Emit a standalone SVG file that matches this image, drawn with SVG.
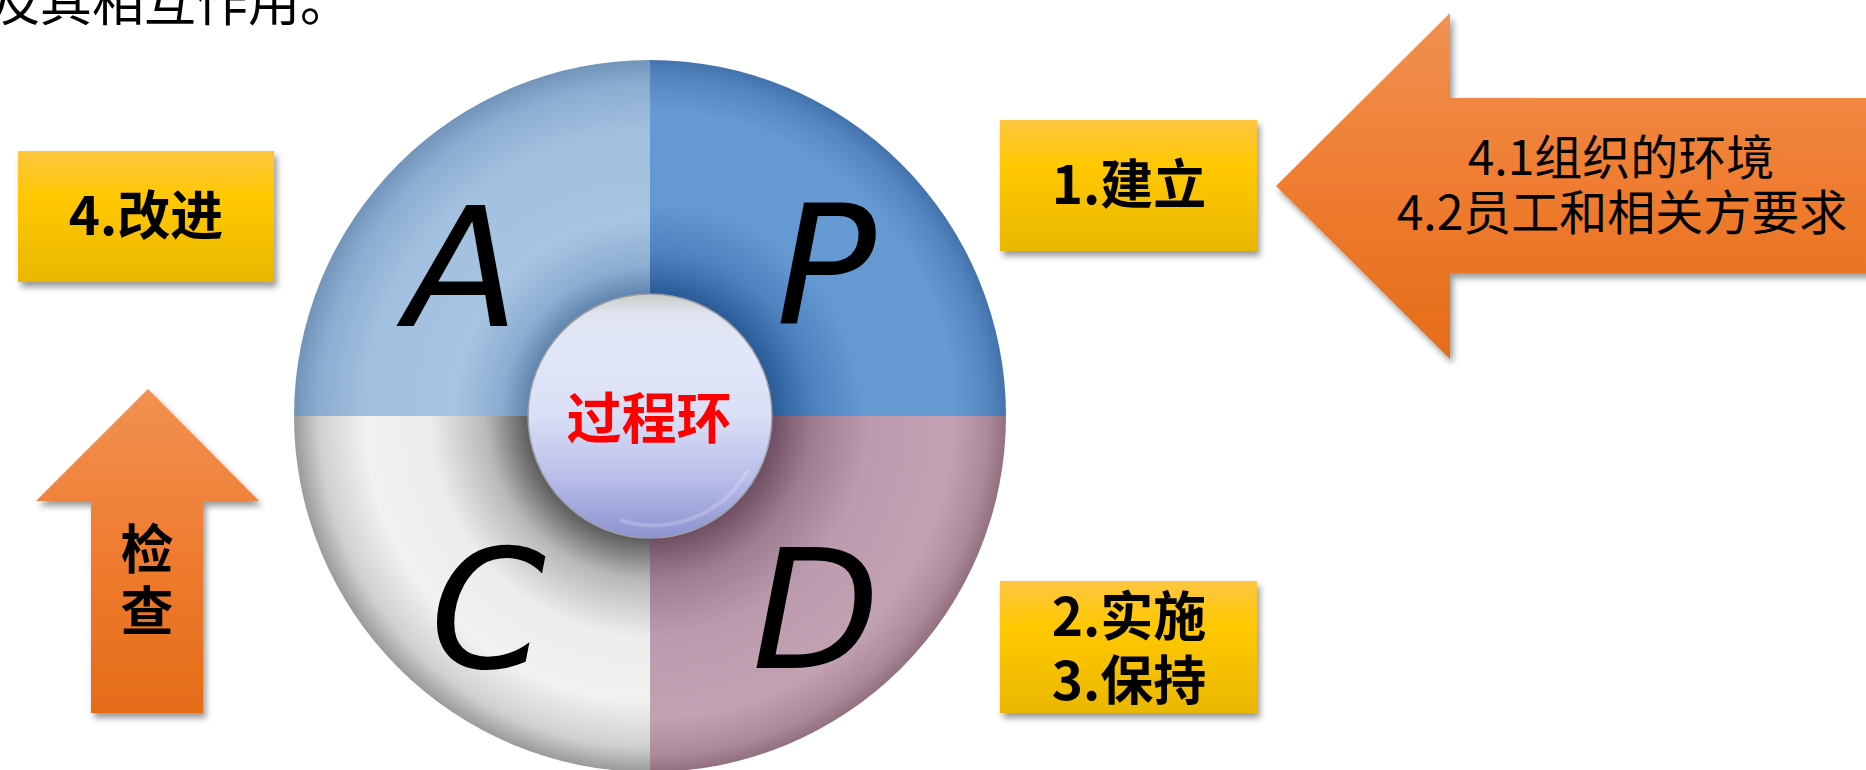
<svg xmlns="http://www.w3.org/2000/svg" width="1866" height="770" viewBox="0 0 1866 770">
<style>
.cjk{font-family:"Noto Sans CJK SC","Noto Sans",sans-serif;}
.boxlbl{font-family:"Noto Sans CJK SC","Noto Sans",sans-serif;font-weight:700;font-size:53px;fill:#000;text-anchor:middle;}
.arrlbl{font-family:"Noto Sans CJK SC","Noto Sans",sans-serif;font-weight:400;font-size:48px;fill:#000;text-anchor:middle;}
.letter{font-family:"DejaVu Sans",sans-serif;font-style:italic;font-size:166px;fill:#000;text-anchor:middle;}
.ybox{fill:url(#gYellow);filter:url(#shadow);}
.oarrow{fill:url(#gOrange);filter:url(#shadow);}
</style>
<defs>
<filter id="shadow" x="-10%" y="-10%" width="125%" height="130%">
<feDropShadow dx="3" dy="5" stdDeviation="3" flood-color="#000" flood-opacity="0.4"/>
</filter>
<linearGradient id="gYellow" x1="0" y1="0" x2="0" y2="1">
<stop offset="0" stop-color="#FEC640"/>
<stop offset="0.35" stop-color="#FFC800"/>
<stop offset="1" stop-color="#EAB700"/>
</linearGradient>
<linearGradient id="gOrange" x1="0" y1="0" x2="0" y2="1">
<stop offset="0" stop-color="#F19152"/>
<stop offset="0.5" stop-color="#EF7C30"/>
<stop offset="1" stop-color="#E56C18"/>
</linearGradient>
<radialGradient id="gA" gradientUnits="userSpaceOnUse" cx="650" cy="416" r="356">
<stop offset="0.34" stop-color="#5F83AC"/>
<stop offset="0.42" stop-color="#8CADD1"/>
<stop offset="0.55" stop-color="#A7C4E2"/>
<stop offset="0.8" stop-color="#A2C0DF"/>
<stop offset="0.93" stop-color="#8CADD1"/>
<stop offset="1" stop-color="#7294BA"/>
</radialGradient>
<radialGradient id="gP" gradientUnits="userSpaceOnUse" cx="650" cy="416" r="356">
<stop offset="0.34" stop-color="#285A96"/>
<stop offset="0.46" stop-color="#4E82BF"/>
<stop offset="0.6" stop-color="#6599D2"/>
<stop offset="0.85" stop-color="#679AD3"/>
<stop offset="0.95" stop-color="#5586C0"/>
<stop offset="1" stop-color="#4373AC"/>
</radialGradient>
<radialGradient id="gD" gradientUnits="userSpaceOnUse" cx="650" cy="416" r="356">
<stop offset="0.34" stop-color="#6E4C62"/>
<stop offset="0.46" stop-color="#9E7D91"/>
<stop offset="0.62" stop-color="#BC9BAE"/>
<stop offset="0.85" stop-color="#C2A1B3"/>
<stop offset="0.95" stop-color="#AC8A9C"/>
<stop offset="1" stop-color="#93707F"/>
</radialGradient>
<radialGradient id="gC" gradientUnits="userSpaceOnUse" cx="650" cy="416" r="356">
<stop offset="0.34" stop-color="#5A5A5A"/>
<stop offset="0.46" stop-color="#B8B8B8"/>
<stop offset="0.62" stop-color="#EDEDED"/>
<stop offset="0.8" stop-color="#F1F1F1"/>
<stop offset="0.93" stop-color="#D0D0D0"/>
<stop offset="1" stop-color="#9A9A9A"/>
</radialGradient>
<linearGradient id="gBall" x1="0" y1="0" x2="0" y2="1">
<stop offset="0" stop-color="#C9CEC6"/>
<stop offset="0.08" stop-color="#DFE3EE"/>
<stop offset="0.2" stop-color="#E2E7F8"/>
<stop offset="0.5" stop-color="#DADFF6"/>
<stop offset="0.75" stop-color="#B9BEEA"/>
<stop offset="1" stop-color="#8C93CF"/>
</linearGradient>
</defs>

<rect width="1866" height="770" fill="#FFFFFF"/>

<text id="caption" class="cjk" x="352" y="21" font-size="52" fill="#000" text-anchor="end">及其相互作用。</text>

<g id="pdca-ring">
<path id="quad-A" d="M650,416 L294,416 A356,356 0 0 1 650,60 Z" fill="url(#gA)"/>
<path id="quad-P" d="M650,416 L650,60 A356,356 0 0 1 1006,416 Z" fill="url(#gP)"/>
<path id="quad-D" d="M650,416 L1006,416 A356,356 0 0 1 650,772 Z" fill="url(#gD)"/>
<path id="quad-C" d="M650,416 L650,772 A356,356 0 0 1 294,416 Z" fill="url(#gC)"/>
<text class="letter" x="462" y="326">A</text>
<text class="letter" x="826" y="324">P</text>
<text class="letter" x="488" y="668">C</text>
<text class="letter" x="816" y="668">D</text>
</g>

<g id="center-ball">
<circle cx="650" cy="416" r="122" fill="url(#gBall)" stroke="#9C9DA6" stroke-width="1.5"/>
<path d="M748,470 A108,108 0 0 1 620,520" fill="none" stroke="#FFFFFF" stroke-opacity="0.2" stroke-width="4"/>
<text class="cjk" x="649" y="438" font-size="55" font-weight="700" fill="#FF0000" text-anchor="middle">过程环</text>
</g>

<g id="node-improve">
<rect class="ybox" x="18" y="151" width="256" height="131"/>
<text class="boxlbl" x="146" y="235">4.改进</text>
</g>

<g id="node-establish">
<rect class="ybox" x="1000" y="120" width="257" height="131"/>
<text class="boxlbl" x="1129" y="204">1.建立</text>
</g>

<g id="node-implement">
<rect class="ybox" x="1000" y="581" width="257" height="132"/>
<text class="boxlbl" x="1129" y="636">2.实施</text>
<text class="boxlbl" x="1129" y="700">3.保持</text>
</g>

<g id="connectors">
<g id="arrow-check">
<polygon class="oarrow" points="148,389 259,501 203,501 203,713 91,713 91,501 36,501"/>
<text class="boxlbl" x="147" y="569">检</text>
<text class="boxlbl" x="147" y="631">查</text>
</g>
<g id="arrow-context">
<polygon class="oarrow" points="1276,186 1450,13 1450,98 1870,98 1870,273 1450,273 1450,359"/>
<text class="arrlbl" x="1621" y="175">4.1组织的环境</text>
<text class="arrlbl" x="1622" y="230">4.2员工和相关方要求</text>
</g>
</g>
</svg>
